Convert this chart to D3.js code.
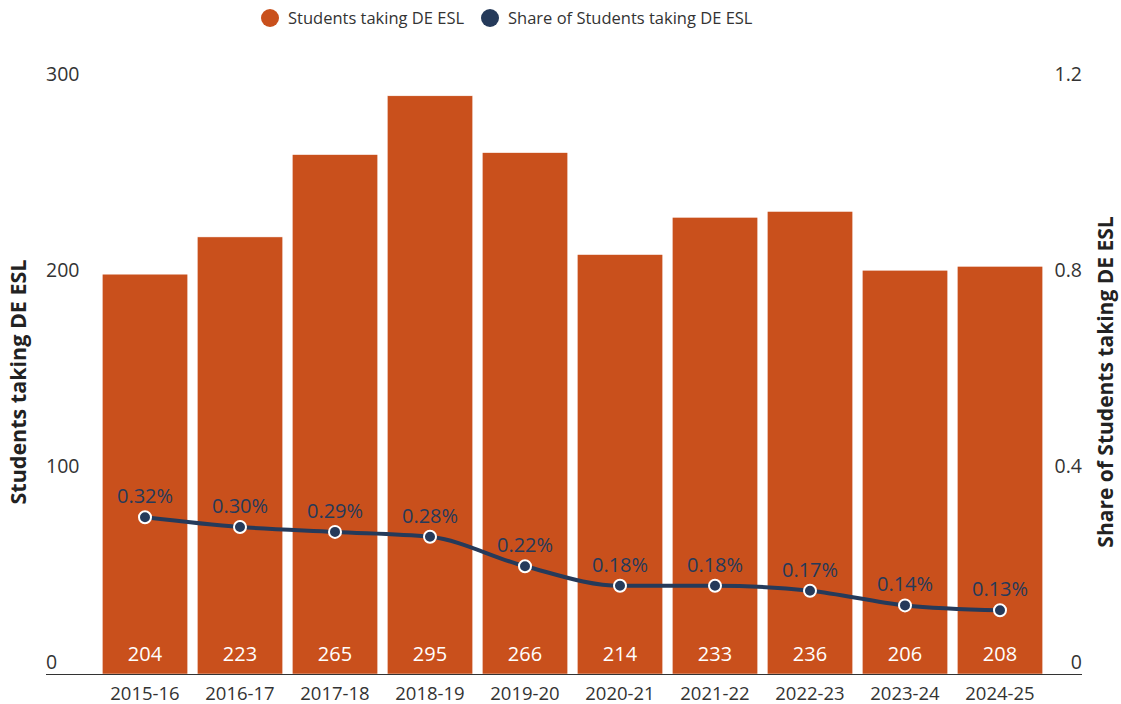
<!DOCTYPE html>
<html><head><meta charset="utf-8">
<script src="https://cdn.jsdelivr.net/npm/d3@7"></script>
<style>
body{margin:0;background:#fff;}
svg{display:block;font-family:"Open Sans",sans-serif;}
</style></head>
<body><svg id="chart" width="1121" height="704"></svg>
<script>
const categories = ["2015-16","2016-17","2017-18","2018-19","2019-20","2020-21","2021-22","2022-23","2023-24","2024-25"];
const students = [204,223,265,295,266,214,233,236,206,208];
const share = [0.32,0.30,0.29,0.28,0.22,0.18,0.18,0.17,0.14,0.13];
const leftTicks = [0,100,200,300];
const rightTicks = [0,0.4,0.8,1.2];

const barColor = "#C9501C", lineColor = "#253A5A", textColor = "#333333";
const svg = d3.select("#chart");
const x = d3.scaleBand().domain(categories).range([97.5,1047.5]).paddingInner(0.1).paddingOuter(0.05);
const yL = d3.scaleLinear().domain([0,300]).range([674,86]);
const yR = d3.scaleLinear().domain([0,1.2]).range([674,86]);

// bars
svg.append("g").selectAll("rect").data(students).join("rect")
  .attr("x",(d,i)=>x(categories[i])).attr("width",x.bandwidth())
  .attr("y",d=>yL(d)).attr("height",d=>yL(0)-yL(d))
  .attr("fill",barColor).attr("stroke","#fff").attr("stroke-width",0.5);

// bar labels
svg.append("g").selectAll("text").data(students).join("text")
  .attr("x",(d,i)=>x(categories[i])+x.bandwidth()/2).attr("y",661)
  .attr("text-anchor","middle").attr("fill","#fff").attr("font-size",20)
  .text(d=>d);

// x axis line
svg.append("line").attr("x1",46).attr("x2",1082).attr("y1",674.5).attr("y2",674.5)
  .attr("stroke","#333").attr("stroke-width",1);

// x labels
svg.append("g").selectAll("text").data(categories).join("text")
  .attr("x",d=>x(d)+x.bandwidth()/2).attr("y",700)
  .attr("text-anchor","middle").attr("fill",textColor).attr("font-size",18.5)
  .text(d=>d);

// left ticks
svg.append("g").selectAll("text").data(leftTicks).join("text")
  .attr("x",46).attr("y",d=>yL(d)-5).attr("fill",textColor).attr("font-size",19.5)
  .text(d=>d);
// right ticks
svg.append("g").selectAll("text").data(rightTicks).join("text")
  .attr("x",1082).attr("y",d=>yR(d)-5).attr("text-anchor","end").attr("fill",textColor).attr("font-size",19.5)
  .text(d=>d===0?"0":d3.format(".1f")(d));

// axis titles
svg.append("text").attr("transform","translate(26,382) rotate(-90)")
  .attr("text-anchor","middle").attr("font-weight","bold").attr("font-size",21.5).attr("fill","#222")
  .text("Students taking DE ESL");
svg.append("text").attr("transform","translate(1113,382) rotate(-90)")
  .attr("text-anchor","middle").attr("font-weight","bold").attr("font-size",21).attr("fill","#222")
  .text("Share of Students taking DE ESL");

// line
const cx = i=>x(categories[i])+x.bandwidth()/2;
const line = d3.line().x((d,i)=>cx(i)).y(d=>yR(d)).curve(d3.curveMonotoneX);
svg.append("path").datum(share).attr("d",line).attr("fill","none")
  .attr("stroke",lineColor).attr("stroke-width",4);
svg.append("g").selectAll("circle").data(share).join("circle")
  .attr("cx",(d,i)=>cx(i)).attr("cy",d=>yR(d)).attr("r",6)
  .attr("fill",lineColor).attr("stroke","#fff").attr("stroke-width",2);
svg.append("g").selectAll("text").data(share).join("text")
  .attr("x",(d,i)=>cx(i)).attr("y",d=>yR(d)-14)
  .attr("text-anchor","middle").attr("fill",lineColor).attr("font-size",20)
  .text(d=>d.toFixed(2)+"%");

// legend
const legend = [{label:"Students taking DE ESL",color:barColor,x:270},{label:"Share of Students taking DE ESL",color:lineColor,x:490}];
const lg = svg.append("g").selectAll("g").data(legend).join("g");
lg.append("circle").attr("cx",d=>d.x).attr("cy",18).attr("r",9).attr("fill",d=>d.color);
lg.append("text").attr("x",d=>d.x+18).attr("y",24).attr("fill",textColor).attr("font-size",16.5).text(d=>d.label);
</script></body></html>
